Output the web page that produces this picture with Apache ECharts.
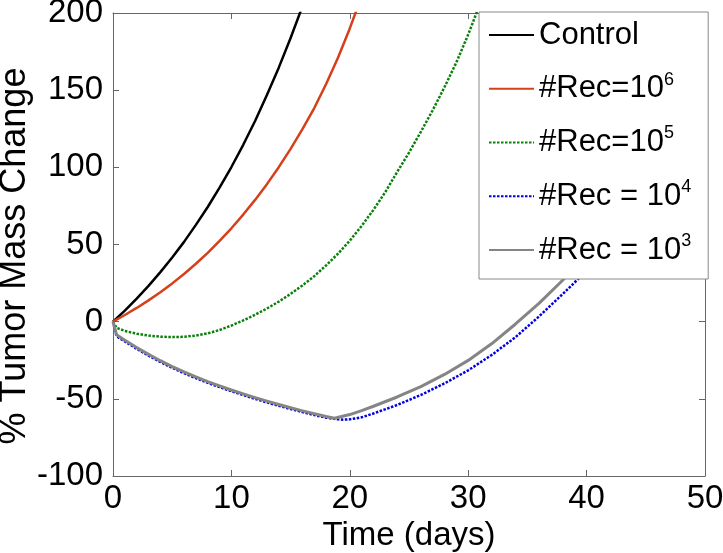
<!DOCTYPE html>
<html>
<head>
<meta charset="utf-8">
<script src="https://cdn.jsdelivr.net/npm/echarts@6/dist/echarts.min.js"></script>
<style>html,body{margin:0;padding:0;background:#fff}#c{width:723px;height:553px}</style>
</head>
<body>
<div id="c"></div>
<script>
// ---- data ----
const xTicks = [0, 10, 20, 30, 40, 50];
const yTicks = [-100, -50, 0, 50, 100, 150, 200];

const ctrlT = [0, 1, 2, 3, 4, 5, 6, 7, 8, 9, 10, 11, 12, 13, 14, 15, 16];
const ctrlV = [0, 7.2, 14.9, 23.2, 32.1, 41.6, 51.7, 62.7, 74.3, 86.8, 100.2, 114.6, 130, 146.8, 164.6, 183.8, 204.3];

const r6T = [0, 1, 2, 3, 4, 5, 6, 7, 8, 9, 10, 11, 12, 13, 14, 15, 16, 17, 18, 19, 20, 21];
const r6V = [0, 4.3, 8.9, 13.8, 19.1, 24.8, 30.9, 37.5, 44.6, 52.3, 60.5, 69.4, 78.9, 89.1, 100.1, 112, 124.7, 138.4, 154, 171, 190, 211];

const r5T = [0, 0.3, 1, 2, 3, 4, 5, 6, 7, 8, 9, 10, 11, 12, 13, 14, 15, 16, 17, 18, 19, 20, 21, 22, 23, 24, 25, 26, 27, 28, 29, 30, 31];
const r5V = [0, -4, -6, -7.8, -9, -9.7, -10, -9.8, -9, -7.6, -5.4, -2.5, 0.8, 4.5, 8.5, 13, 18, 23.5, 29.5, 36.5, 44, 52.5, 62, 72.5, 84, 97, 109.5, 123, 137, 152, 168, 186, 206];

const r4T = [0, 0.3, 1, 2, 3, 4, 5, 6, 7, 8, 9, 10, 11, 12, 13, 14, 15, 16, 17, 18, 19, 19.5, 20, 21, 22, 24, 26, 28, 30, 32, 34, 36, 38, 40, 42, 44, 46, 48, 50];
const r4V = [0, -9.5, -12.8, -17.6, -22, -26.1, -29.9, -33.4, -36.6, -39.6, -42.4, -45.1, -47.6, -50, -52.3, -54.5, -56.6, -58.6, -60.5, -62.2, -63.3, -63.5, -63.3, -62, -59.5, -54, -47.5, -40, -31.5, -21.5, -10, 3.5, 18, 33, 51, 72, 96, 124, 156];

const r3T = [0, 0.3, 1, 2, 3, 4, 5, 6, 7, 8, 9, 10, 11, 12, 13, 14, 15, 16, 17, 18, 18.7, 20, 21, 22, 24, 26, 28, 30, 32, 34, 36, 38, 40, 42, 44, 46, 48, 50];
const r3V = [0, -8.5, -12, -16.8, -21.2, -25.3, -29.1, -32.6, -35.8, -38.8, -41.6, -44.3, -46.8, -49.2, -51.5, -53.7, -55.8, -57.8, -59.7, -61.5, -62.6, -60.2, -57.6, -54.8, -48.8, -42.1, -34.2, -25.1, -14.2, -1.5, 12, 27, 44, 64, 87, 113, 143, 177];

const names = ['Control', '#Rec=10{s|6}', '#Rec=10{s|5}', '#Rec = 10{s|4}', '#Rec = 10{s|3}'];
const xTitle = 'Time (days)';
const yTitle = '% Tumor Mass Change';

function zip(t, v) { return t.map((x, i) => [x, v[i]]); }

const FONT = '"Liberation Sans", Arial, Helvetica, sans-serif';
const AX = '#666';

const chart = echarts.init(document.getElementById('c'), null, {renderer: 'canvas'});

function mkX(pos, labels) {
  return {
    type: 'value', position: pos, min: xTicks[0], max: xTicks[xTicks.length - 1], interval: xTicks[1] - xTicks[0],
    axisLine: {show: true, onZero: false, lineStyle: {color: AX, width: 1}},
    axisTick: {show: true, inside: true, length: 6, lineStyle: {color: AX}},
    axisLabel: {show: labels, color: '#000', fontSize: 33, fontFamily: FONT, margin: 6},
    splitLine: {show: false}
  };
}
function mkY(pos, labels) {
  return {
    type: 'value', position: pos, min: yTicks[0], max: yTicks[yTicks.length - 1], interval: yTicks[1] - yTicks[0],
    axisLine: {show: true, onZero: false, lineStyle: {color: AX, width: 1}},
    axisTick: {show: true, inside: true, length: 6, lineStyle: {color: AX}},
    axisLabel: {show: labels, color: '#000', fontSize: 33, fontFamily: FONT, margin: 10},
    splitLine: {show: false}
  };
}

const xMain = mkX('bottom', true);
xMain.name = xTitle;
xMain.nameLocation = 'middle';
xMain.nameGap = 40;
xMain.nameTextStyle = {color: '#000', fontSize: 33, fontFamily: FONT};
const yMain = mkY('left', true);

function line(name, t, v, color, width, dotted) {
  return {
    name: name, type: 'line', data: zip(t, v), xAxisIndex: 0, yAxisIndex: 0,
    symbol: 'none', showSymbol: false, smooth: false,
    lineStyle: {color: color, width: width, type: dotted ? [2.5, 1.5] : 'solid', join: 'round'},
    itemStyle: {color: color},
    emphasis: {disabled: true}
  };
}

chart.setOption({
  animation: false,
  backgroundColor: '#fff',
  grid: {left: 113, right: 18, top: 13, bottom: 77, containLabel: false, outerBoundsMode: 'none'},
  xAxis: [xMain, mkX('top', false)],
  yAxis: [yMain, mkY('right', false)],
  graphic: [{
    type: 'text', x: 15, y: 256, rotation: Math.PI / 2, silent: true,
    style: {text: yTitle, fill: '#000', fontSize: 36, fontFamily: FONT, align: 'center', verticalAlign: 'middle'}
  }],
  legend: {
    orient: 'vertical', left: 479, top: 12,
    padding: [5, 17, 11, 9], itemGap: 17.75, itemWidth: 45, itemHeight: 14,
    backgroundColor: '#fff', borderColor: '#888', borderWidth: 1, borderRadius: 0,
    selectedMode: false,
    itemStyle: {opacity: 0, borderWidth: 0},
    data: names,
    textStyle: {
      color: '#000', fontSize: 31, fontFamily: FONT, lineHeight: 36,
      rich: {
        s: {fontSize: 18, fontFamily: FONT, color: '#000', lineHeight: 18, verticalAlign: 'top'}
      }
    }
  },
  series: [
    line(names[0], ctrlT, ctrlV, '#000000', 2.5, false),
    line(names[1], r6T, r6V, '#D5401B', 2.5, false),
    line(names[2], r5T, r5V, '#0A800A', 2.5, true),
    line(names[3], r4T, r4V, '#0000E0', 2.5, true),
    line(names[4], r3T, r3V, '#858585', 3, false)
  ]
});
</script>
</body>
</html>
